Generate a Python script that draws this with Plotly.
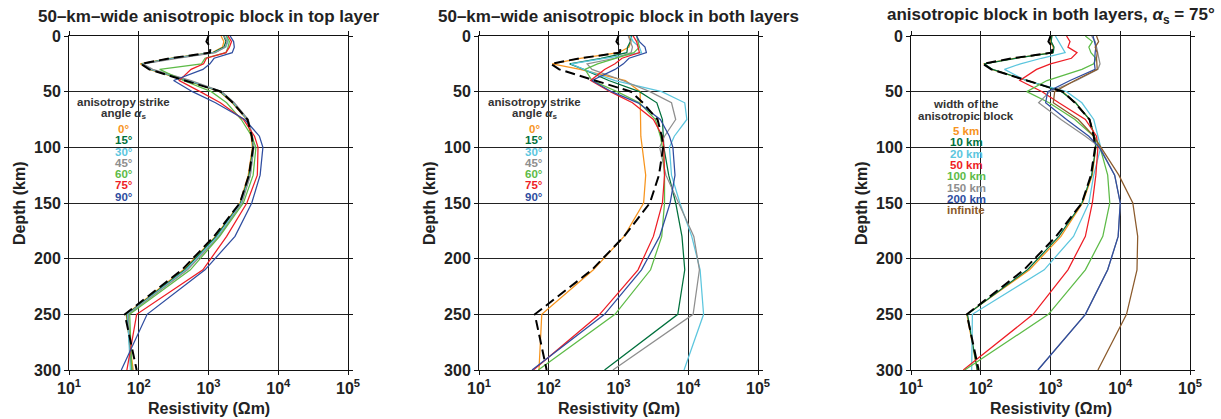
import numpy as np
import plotly.graph_objects as go

W, H = 1221, 419

# depth nodes (km)
DEPTH = [0, 5, 10, 15, 20, 25, 30, 40, 50, 60, 75, 90, 100, 125, 150, 180, 210, 250, 300]

# log10 of resistivity (Ohm m)
REF = [3.00, 2.97, 3.03, 3.02, 2.45, 2.03, 2.15, 2.68, 3.18, 3.35, 3.56, 3.62, 3.64, 3.58, 3.45, 3.08, 2.62, 1.80, 1.97]

# panel 1: anisotropic block in top layer, strike angles
P1_0 = [3.18, 3.22, 3.20, 3.05, 2.45, 2.02, 2.15, 2.68, 3.16, 3.34, 3.55, 3.61, 3.63, 3.57, 3.45, 3.10, 2.64, 1.82, 1.92]
P1_15 = [3.22, 3.25, 3.22, 3.06, 2.47, 2.04, 2.17, 2.70, 3.17, 3.35, 3.56, 3.62, 3.64, 3.58, 3.46, 3.11, 2.66, 1.83, 1.90]
P1_30 = [3.25, 3.28, 3.25, 3.08, 2.50, 2.05, 2.18, 2.72, 3.18, 3.36, 3.56, 3.63, 3.65, 3.60, 3.47, 3.13, 2.68, 1.84, 1.88]
P1_45 = [3.22, 3.27, 3.24, 3.10, 2.55, 2.06, 2.20, 2.75, 3.19, 3.37, 3.57, 3.63, 3.65, 3.60, 3.48, 3.15, 2.70, 1.85, 1.90]
P1_60 = [3.26, 3.30, 3.28, 3.25, 2.95, 2.90, 2.30, 2.64, 3.04, 3.26, 3.47, 3.62, 3.68, 3.64, 3.50, 3.16, 2.74, 1.87, 1.90]
P1_75 = [3.28, 3.33, 3.30, 3.25, 2.97, 2.93, 2.75, 2.58, 2.88, 3.17, 3.50, 3.66, 3.71, 3.70, 3.55, 3.26, 2.92, 1.97, 1.83]
P1_90 = [3.31, 3.36, 3.37, 3.34, 3.08, 3.02, 2.92, 2.50, 2.77, 3.10, 3.52, 3.73, 3.78, 3.74, 3.62, 3.38, 2.95, 2.12, 1.75]

# panel 2: anisotropic block in both layers, strike angles
P2_0 = [3.15, 3.18, 3.15, 3.00, 2.45, 2.05, 2.45, 3.10, 3.31, 3.31, 3.31, 3.32, 3.34, 3.39, 3.36, 3.08, 2.64, 1.90, 1.86]
P2_15 = [3.19, 3.17, 3.13, 3.12, 2.75, 2.30, 2.50, 2.86, 3.30, 3.55, 3.63, 3.64, 3.65, 3.72, 3.82, 3.91, 3.95, 3.85, 2.80]
P2_30 = [3.17, 3.21, 3.30, 3.33, 2.80, 2.32, 2.50, 2.95, 3.62, 3.95, 3.98, 3.80, 3.73, 3.76, 3.88, 4.05, 4.17, 4.22, 3.94]
P2_45 = [3.14, 3.17, 3.20, 3.18, 2.95, 2.55, 2.62, 3.06, 3.45, 3.76, 3.82, 3.66, 3.59, 3.68, 3.86, 4.08, 4.16, 4.07, 2.92]
P2_60 = [3.26, 3.28, 3.30, 3.22, 2.95, 2.70, 2.52, 2.62, 2.98, 3.30, 3.53, 3.60, 3.63, 3.66, 3.66, 3.62, 3.46, 2.95, 1.85]
P2_75 = [3.21, 3.26, 3.28, 3.30, 3.05, 2.95, 2.80, 2.60, 2.88, 3.20, 3.50, 3.63, 3.65, 3.66, 3.63, 3.50, 3.28, 2.73, 1.78]
P2_90 = [3.26, 3.30, 3.38, 3.40, 3.15, 3.07, 2.95, 2.62, 2.90, 3.28, 3.60, 3.73, 3.78, 3.81, 3.74, 3.59, 3.33, 2.80, 1.76]

# panel 3: alpha_s = 75 deg, block widths
P3_5 = [3.02, 3.00, 3.04, 3.03, 2.48, 2.04, 2.16, 2.68, 3.17, 3.36, 3.56, 3.63, 3.65, 3.60, 3.46, 3.15, 2.70, 1.80, 1.95]
P3_10 = [3.02, 3.01, 3.05, 3.04, 2.50, 2.05, 2.17, 2.68, 3.16, 3.36, 3.56, 3.63, 3.65, 3.59, 3.45, 3.12, 2.67, 1.81, 1.95]
P3_20 = [3.07, 3.12, 3.16, 3.21, 2.87, 2.57, 2.34, 2.65, 3.23, 3.45, 3.62, 3.68, 3.72, 3.62, 3.55, 3.33, 2.91, 1.88, 1.87]
P3_50 = [3.23, 3.28, 3.25, 3.38, 3.30, 3.00, 2.80, 2.56, 2.88, 3.12, 3.50, 3.66, 3.68, 3.65, 3.60, 3.50, 3.25, 2.75, 1.75]
P3_100 = [3.50, 3.60, 3.55, 3.58, 3.65, 3.62, 3.45, 2.95, 2.66, 2.98, 3.35, 3.62, 3.71, 3.82, 3.85, 3.75, 3.50, 2.97, 1.77]
P3_150 = [3.59, 3.64, 3.66, 3.68, 3.70, 3.71, 3.68, 3.37, 2.99, 2.83, 3.15, 3.50, 3.71, 3.92, 4.00, 3.97, 3.82, 3.50, 2.82]
P3_200 = [3.61, 3.63, 3.65, 3.64, 3.63, 3.63, 3.64, 3.28, 2.96, 2.93, 3.23, 3.55, 3.70, 3.92, 4.00, 3.97, 3.82, 3.50, 2.82]
P3_INF = [3.66, 3.69, 3.64, 3.67, 3.66, 3.66, 3.67, 3.35, 3.06, 3.04, 3.40, 3.62, 3.72, 3.98, 4.18, 4.25, 4.24, 4.09, 3.68]

TITLES = ["50\u2013km\u2013wide anisotropic block in top layer",
          "50\u2013km\u2013wide anisotropic block in both layers",
          "anisotropic block in both layers, <i>\u03b1</i><sub>s</sub> = 75\u00b0"]
ANGLE_LABELS = ["0\u00b0", "15\u00b0", "30\u00b0", "45\u00b0", "60\u00b0", "75\u00b0", "90\u00b0"]
WIDTH_LABELS = ["5 km", "10 km", "20 km", "50 km", "100 km", "150 km", "200 km", "infinite"]
X_TICKS = [1e1, 1e2, 1e3, 1e4, 1e5]
X_TICK_TEXT = ["10<sup>1</sup>", "10<sup>2</sup>", "10<sup>3</sup>", "10<sup>4</sup>", "10<sup>5</sup>"]
Y_TICKS = [0, 50, 100, 150, 200, 250, 300]

ORANGE = "#F7941D"
DKGREEN = "#00703C"
CYAN = "#5CC6DE"
GRAY = "#8E8E8E"
LTGREEN = "#5DBB47"
RED = "#EE1D25"
BLUE = "#2F4DA0"
BROWN = "#8B5A2B"
ANGLE_COLORS = [ORANGE, DKGREEN, CYAN, GRAY, LTGREEN, RED, BLUE]
WIDTH_COLORS = [ORANGE, DKGREEN, CYAN, RED, LTGREEN, GRAY, BLUE, BROWN]

FONT = "Liberation Sans, Arial, sans-serif"

fig = go.Figure()

panels = [
    [P1_0, P1_15, P1_30, P1_45, P1_60, P1_75, P1_90],
    [P2_0, P2_15, P2_30, P2_45, P2_60, P2_75, P2_90],
    [P3_5, P3_10, P3_20, P3_50, P3_100, P3_150, P3_200, P3_INF],
]
panel_colors = [ANGLE_COLORS, ANGLE_COLORS, WIDTH_COLORS]

for i, (series, cols) in enumerate(zip(panels, panel_colors)):
    ax = "" if i == 0 else str(i + 1)
    for vals, c in zip(series, cols):
        fig.add_trace(go.Scatter(x=10 ** np.array(vals), y=DEPTH, mode="lines",
                                 line=dict(color=c, width=1.25),
                                 xaxis="x" + ax, yaxis="y" + ax, showlegend=False,
                                 hoverinfo="skip"))
    fig.add_trace(go.Scatter(x=10 ** np.array(REF), y=DEPTH, mode="lines",
                             line=dict(color="black", width=2, dash="10px,5px"),
                             xaxis="x" + ax, yaxis="y" + ax, showlegend=False,
                             hoverinfo="skip"))

# pixel layout of plot areas
XPIX = [(69, 348), (479, 758), (911, 1190)]
YPIX = (36, 370)

axis_common = dict(showline=True, linecolor="#111", linewidth=1, mirror="ticks",
                   ticks="outside", ticklen=4, tickcolor="#111", tickwidth=1,
                   showgrid=True, gridcolor="#222", gridwidth=1, zeroline=False,
                   automargin=False,
                   tickfont=dict(family=FONT, size=16, color="#222", weight="bold"))

layout = dict(width=W, height=H, margin=dict(l=0, r=0, t=0, b=0, autoexpand=False),
              paper_bgcolor="white", plot_bgcolor="white", showlegend=False)

for i, (x0, x1) in enumerate(XPIX):
    ax = "" if i == 0 else str(i + 1)
    layout["xaxis" + ax] = dict(axis_common, type="log", range=[1, 5],
                                domain=[x0 / W, x1 / W], anchor="y" + ax,
                                tickvals=X_TICKS, ticktext=X_TICK_TEXT)
    layout["yaxis" + ax] = dict(axis_common, range=[300, 0],
                                domain=[1 - YPIX[1] / H, 1 - YPIX[0] / H], anchor="x" + ax,
                                tickvals=Y_TICKS)

fig.update_layout(**layout)

ann = []
def px(x):
    return x / W
def py(y):
    return 1 - y / H

for i, (x0, x1) in enumerate(XPIX):
    cx = (x0 + x1) / 2
    ann.append(dict(text="<b>" + TITLES[i] + "</b>", x=px(cx), y=py(16), xref="paper", yref="paper",
                    showarrow=False, xanchor="center", yanchor="middle",
                    font=dict(family=FONT, size=17, color="#222")))
    ann.append(dict(text="<b>Resistivity (\u03a9m)</b>", x=px(cx), y=py(408), xref="paper", yref="paper",
                    showarrow=False, xanchor="center", yanchor="middle",
                    font=dict(family=FONT, size=16, color="#222")))
    ann.append(dict(text="<b>Depth (km)</b>", x=px(x0 - 49), y=py(203), xref="paper", yref="paper",
                    showarrow=False, xanchor="center", yanchor="middle", textangle=-90,
                    font=dict(family=FONT, size=16, color="#222")))

def legend(cx, head, labels, colors, y_start):
    out = []
    for k, h in enumerate(head):
        out.append(dict(text="<b>" + h + "</b>", x=px(cx), y=py(y_start + 12 * k), xref="paper", yref="paper",
                        showarrow=False, xanchor="center", yanchor="middle",
                        font=dict(family=FONT, size=11.5, color="#333")))
    y0 = y_start + 12 * len(head) + 3
    for k, (lab, c) in enumerate(zip(labels, colors)):
        out.append(dict(text="<b>" + lab + "</b>", x=px(cx), y=py(y0 + 11.3 * k), xref="paper", yref="paper",
                        showarrow=False, xanchor="center", yanchor="middle",
                        font=dict(family=FONT, size=11.5, color=c)))
    return out

ann += legend(124, ["anisotropy strike", "angle <i>\u03b1</i><sub>s</sub>"], ANGLE_LABELS, ANGLE_COLORS, 102)
ann += legend(534, ["anisotropy strike", "angle <i>\u03b1</i><sub>s</sub>"], ANGLE_LABELS, ANGLE_COLORS, 102)
ann += legend(966, ["width of the", "anisotropic block"], WIDTH_LABELS, WIDTH_COLORS, 104)

fig.update_layout(annotations=ann)
fig.write_html("out.html")
